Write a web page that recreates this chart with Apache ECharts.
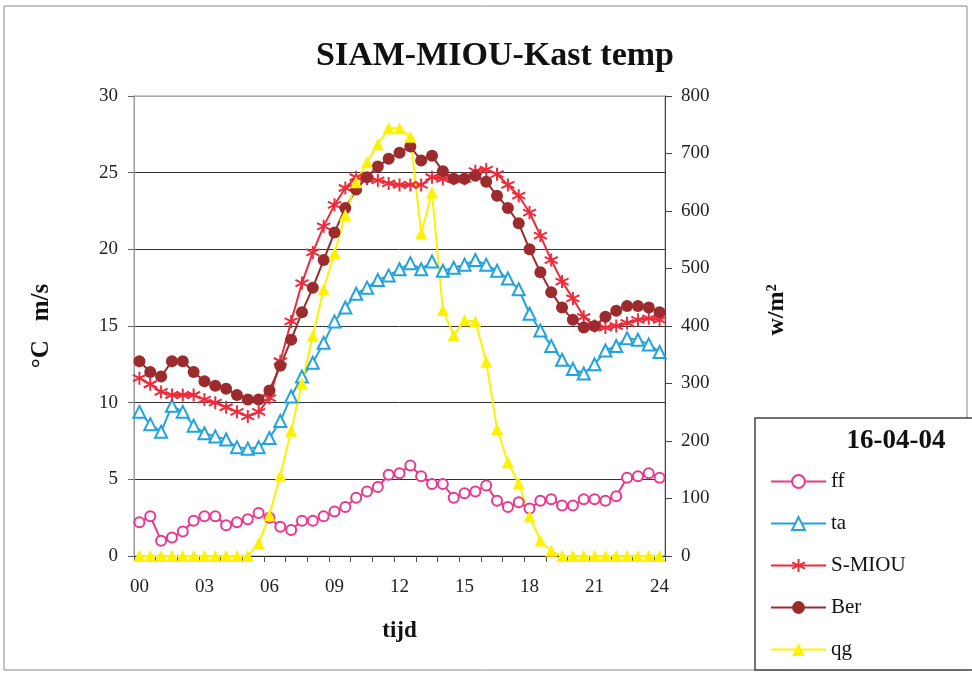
<!DOCTYPE html>
<html>
<head>
<meta charset="utf-8">
<title>SIAM-MIOU-Kast temp</title>
<script src="https://cdn.jsdelivr.net/npm/echarts@6/dist/echarts.min.js"></script>
<style>
  html, body { margin: 0; padding: 0; background: #ffffff; }
  #chart { width: 972px; height: 675px; }
</style>
</head>
<body>
<div id="chart"></div>
<script>
// Half-hourly readings over one day (16-04-04)
const tijd = [
  '00','00:30','01','01:30','02','02:30','03','03:30','04','04:30',
  '05','05:30','06','06:30','07','07:30','08','08:30','09','09:30',
  '10','10:30','11','11:30','12','12:30','13','13:30','14','14:30',
  '15','15:30','16','16:30','17','17:30','18','18:30','19','19:30',
  '20','20:30','21','21:30','22','22:30','23','23:30','24'
];

// wind speed (m/s)
const ff = [2.2, 2.6, 1.0, 1.2, 1.6, 2.3, 2.6, 2.6, 2.0, 2.2,
            2.4, 2.8, 2.5, 1.9, 1.7, 2.3, 2.3, 2.6, 2.9, 3.2,
            3.8, 4.2, 4.5, 5.3, 5.4, 5.9, 5.2, 4.7, 4.7, 3.8,
            4.1, 4.2, 4.6, 3.6, 3.2, 3.5, 3.1, 3.6, 3.7, 3.3,
            3.3, 3.7, 3.7, 3.6, 3.9, 5.1, 5.2, 5.4, 5.1];

// air temperature (°C)
const ta = [9.4, 8.6, 8.1, 9.8, 9.4, 8.5, 8.0, 7.8, 7.6, 7.1,
            7.0, 7.1, 7.7, 8.8, 10.4, 11.7, 12.6, 13.9, 15.3, 16.2,
            17.1, 17.5, 18.0, 18.3, 18.7, 19.1, 18.7, 19.2, 18.6, 18.8,
            19.0, 19.3, 19.0, 18.6, 18.1, 17.4, 15.8, 14.7, 13.7, 12.8,
            12.2, 11.9, 12.5, 13.4, 13.7, 14.2, 14.1, 13.8, 13.3];

// measured cabinet temperature (°C)
const sMiou = [11.6, 11.2, 10.7, 10.5, 10.5, 10.5, 10.2, 10.0, 9.7, 9.4,
               9.1, 9.4, 10.3, 12.7, 15.3, 17.8, 19.8, 21.5, 22.9, 24.0,
               24.7, 24.6, 24.5, 24.3, 24.2, 24.2, 24.2, 24.7, 24.6, 24.6,
               24.6, 25.1, 25.2, 24.9, 24.2, 23.5, 22.4, 20.9, 19.3, 17.9,
               16.8, 15.6, 15.0, 14.9, 15.0, 15.2, 15.4, 15.5, 15.4];

// computed cabinet temperature (°C)
const ber = [12.7, 12.0, 11.7, 12.7, 12.7, 12.0, 11.4, 11.1, 10.9, 10.5,
             10.2, 10.2, 10.8, 12.4, 14.1, 15.9, 17.5, 19.3, 21.1, 22.7,
             23.9, 24.7, 25.4, 25.9, 26.3, 26.7, 25.8, 26.1, 25.1, 24.6,
             24.6, 24.8, 24.4, 23.5, 22.7, 21.7, 20.0, 18.5, 17.2, 16.2,
             15.4, 14.9, 15.0, 15.6, 16.0, 16.3, 16.3, 16.2, 15.9];

// global radiation (W/m²)
const qg = [0, 0, 0, 0, 0, 0, 0, 0, 0, 0,
            0, 22, 71, 140, 218, 300, 383, 464, 527, 593,
            650, 685, 716, 744, 744, 729, 561, 632, 428, 384,
            410, 408, 338, 221, 163, 126, 69, 27, 9, 0,
            0, 0, 0, 0, 0, 0, 0, 0, 0];

const serif = '"Liberation Serif", "DejaVu Serif", serif';
const asterisk = 'path://M10,0L10,20M1.34,5L18.66,15M1.34,15L18.66,5';

const chart = echarts.init(document.getElementById('chart'), null, { renderer: 'canvas' });

chart.setOption({
  backgroundColor: '#ffffff',
  animation: false,
  title: {
    text: 'SIAM-MIOU-Kast temp',
    left: 490,
    top: 34,
    textAlign: 'center',
    textStyle: { fontFamily: serif, fontSize: 34, fontWeight: 'bold', color: '#111' }
  },
  grid: {
    left: 134, right: 307, top: 96, bottom: 119,
    show: true, borderColor: '#999', borderWidth: 1
  },
  legend: {
    orient: 'vertical',
    left: 770,
    top: 471,
    padding: 0,
    itemWidth: 55,
    itemHeight: 16,
    itemGap: 21,
    textStyle: { fontFamily: serif, fontSize: 21, color: '#111', lineHeight: 21 },
    data: ['ff', 'ta', 'S-MIOU', 'Ber', 'qg']
  },
  xAxis: {
    type: 'category',
    data: tijd,
    boundaryGap: true,
    name: 'tijd',
    nameLocation: 'middle',
    nameGap: 64,
    nameTextStyle: { fontFamily: serif, fontSize: 23, fontWeight: 'bold', color: '#111' },
    axisLine: { show: true, lineStyle: { color: '#222', width: 1 } },
    axisTick: { show: true, interval: 1, length: 6, lineStyle: { color: '#555' } },
    axisLabel: {
      interval: 5, margin: 22,
      fontFamily: serif, fontSize: 19, color: '#222',
      formatter: v => v.slice(0, 2)
    },
    splitLine: { show: false }
  },
  yAxis: [
    {
      type: 'value',
      min: 0, max: 30, interval: 5,
      position: 'left',
      name: '°C   m/s',
      nameLocation: 'middle',
      nameRotate: 90,
      nameGap: 80,
      nameTextStyle: { fontFamily: serif, fontSize: 25, fontWeight: 'bold', color: '#111' },
      axisLine: { show: true, lineStyle: { color: '#999', width: 1 } },
      axisTick: { show: true, length: 6, lineStyle: { color: '#666' } },
      axisLabel: { margin: 16, fontFamily: serif, fontSize: 19, color: '#222' },
      splitLine: {
        show: true,
        lineStyle: { color: ['#333', '#333', '#333', '#333', '#333', '#333', '#aaa'], width: 1 }
      }
    },
    {
      type: 'value',
      min: 0, max: 800, interval: 100,
      position: 'right',
      name: 'w/m²',
      nameLocation: 'middle',
      nameRotate: 90,
      nameGap: 100,
      nameTextStyle: {
        fontFamily: serif, fontSize: 24, fontWeight: 'bold', color: '#111',
        padding: [0, 0, 0, 32]
      },
      axisLine: { show: true, lineStyle: { color: '#444', width: 1 } },
      axisTick: { show: true, length: 7, lineStyle: { color: '#444' } },
      axisLabel: { margin: 16, fontFamily: serif, fontSize: 19, color: '#222' },
      splitLine: { show: false }
    }
  ],
  series: [
    {
      name: 'ff', type: 'line', yAxisIndex: 0, data: ff,
      symbol: 'emptyCircle', symbolSize: 10, showAllSymbol: true,
      color: '#E8388F',
      lineStyle: { color: '#E8388F', width: 2 },
      itemStyle: { color: '#E8388F', borderColor: '#E8388F', borderWidth: 2 }
    },
    {
      name: 'ta', type: 'line', yAxisIndex: 0, data: ta,
      symbol: 'emptyTriangle', symbolSize: 12, showAllSymbol: true,
      color: '#22A3DF',
      lineStyle: { color: '#22A3DF', width: 2 },
      itemStyle: { color: '#22A3DF', borderColor: '#22A3DF', borderWidth: 2 }
    },
    {
      name: 'S-MIOU', type: 'line', yAxisIndex: 0, data: sMiou,
      symbol: asterisk, symbolSize: 13, showAllSymbol: true,
      color: '#EE2B3B',
      lineStyle: { color: '#EE2B3B', width: 2 },
      itemStyle: { color: '#EE2B3B', borderColor: '#EE2B3B', borderWidth: 2 }
    },
    {
      name: 'Ber', type: 'line', yAxisIndex: 0, data: ber,
      symbol: 'circle', symbolSize: 12, showAllSymbol: true,
      color: '#9C2B2E',
      lineStyle: { color: '#9C2B2E', width: 2 },
      itemStyle: { color: '#9C2B2E' }
    },
    {
      name: 'qg', type: 'line', yAxisIndex: 1, data: qg,
      symbol: 'triangle', symbolSize: 12, showAllSymbol: true,
      color: '#FFF200',
      lineStyle: { color: '#FFF200', width: 2 },
      itemStyle: { color: '#FFF200' }
    }
  ],
  graphic: [
    {
      type: 'rect', silent: true, z: -10,
      shape: { x: 4, y: 6, width: 963, height: 664 },
      style: { fill: null, stroke: '#888', lineWidth: 1 }
    },
    {
      type: 'rect', silent: true, z: 1,
      shape: { x: 755, y: 418, width: 230, height: 252 },
      style: { fill: '#ffffff', stroke: '#444', lineWidth: 1.5 }
    },
    {
      type: 'text', silent: true, z: 2,
      x: 896, y: 441,
      style: {
        text: '16-04-04',
        fontFamily: serif, fontSize: 27, fontWeight: 'bold', fill: '#111',
        align: 'center', verticalAlign: 'middle'
      }
    }
  ]
});
</script>
</body>
</html>
